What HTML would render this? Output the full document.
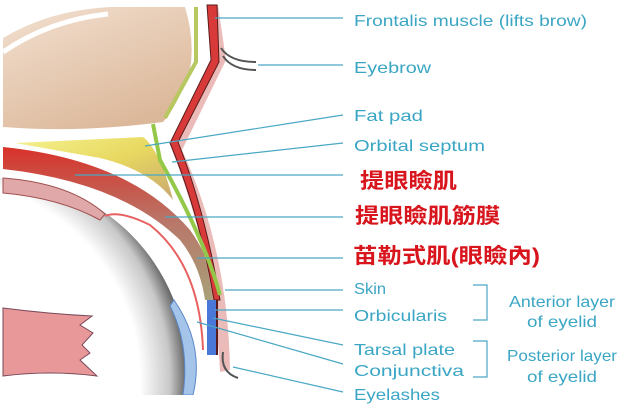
<!DOCTYPE html>
<html><head><meta charset="utf-8"><style>
html,body{margin:0;padding:0;background:#fff;width:634px;height:411px;overflow:hidden}
svg{display:block}
.t{font-family:"Liberation Sans",sans-serif;font-size:16px;fill:#3aa6c4}
.c{font-family:"Liberation Sans","Noto Sans CJK TC",sans-serif;font-size:21px;font-weight:bold;fill:#d8141c}
.l{stroke:#4aa8c4;stroke-width:1.2;fill:none}
</style></head><body>
<svg width="634" height="411" viewBox="0 0 634 411" xmlns="http://www.w3.org/2000/svg">
<defs>
<radialGradient id="eye" cx="-60" cy="380" r="250" gradientUnits="userSpaceOnUse">
<stop offset="0" stop-color="#fff"/><stop offset="0.8" stop-color="#fff"/><stop offset="0.92" stop-color="#c8c8c8"/><stop offset="1" stop-color="#505050"/>
</radialGradient>
<linearGradient id="bone" x1="0" y1="0" x2="0.6" y2="1">
<stop offset="0" stop-color="#f2e0d0"/><stop offset="1" stop-color="#dcb89a"/>
</linearGradient>
<linearGradient id="fat" x1="0" y1="0" x2="1" y2="1">
<stop offset="0" stop-color="#f4f290"/><stop offset="0.5" stop-color="#e8d860"/><stop offset="1" stop-color="#c8a870"/>
</linearGradient>
<linearGradient id="lev" x1="0" y1="0" x2="0" y2="1">
<stop offset="0" stop-color="#d8322a"/><stop offset="0.5" stop-color="#b8786a"/><stop offset="1" stop-color="#a8a078"/>
</linearGradient>
<clipPath id="cl"><rect x="0" y="0" width="634" height="395"/></clipPath>
</defs>
<!-- bone -->
<path d="M3,38 Q50,10 110,7 L185,7 Q195,40 190,70 Q178,105 163,122 Q80,133 3,127 Z" fill="url(#bone)"/>
<path d="M3,52 Q50,20 108,14" stroke="#fff" stroke-width="5" fill="none"/>
<!-- eyeball -->
<g clip-path="url(#cl)">
<circle cx="-5" cy="370" r="192" fill="url(#eye)"/>
<path d="M174,300 Q205,345 193,395 L183,395 Q190,345 170,306 Z" fill="#a4c4ea" stroke="#5a88c8"/>
</g>
<!-- upper pink layer -->
<path d="M3,178 Q70,183 105,214 L100,220 Q60,198 3,193 Z" fill="#e0a8a8" stroke="#a05050" stroke-width="1"/>
<!-- levator -->
<path d="M3,147 Q130,160 190,230 Q215,265 215,300 L205,300 Q200,265 180,240 Q120,182 3,169 Z" fill="url(#lev)"/>
<!-- conjunctiva line -->
<path d="M105,216 Q120,210 150,225 Q200,265 203,350" stroke="#e86060" stroke-width="2" fill="none"/>
<!-- fat pad -->
<path d="M15,143 L143,137 Q160,150 173,200 Q150,170 100,158 Z" fill="url(#fat)"/>
<!-- pink skin shadow -->
<path d="M218,5 L226,60 L182,150 Q228,250 230,370 L220,372 Q215,260 172,150 L215,60 L210,5 Z" fill="#e6aaa8" opacity="0.8"/>
<!-- frontalis red band -->
<path d="M207,5 L217,5 L219,62 L178,142 Q205,210 220,300 L214,300 Q200,215 170,143 L211,60 Z" fill="#d83a3a" stroke="#5a1a1a" stroke-width="1"/>
<!-- green septum -->
<path d="M196,7 L196,62 L165,118" stroke="#b8c860" stroke-width="4" fill="none"/>
<path d="M153,124 L160,160 Q205,240 220,295" stroke="#94c848" stroke-width="4" fill="none"/>
<!-- tarsal plate -->
<rect x="207" y="300" width="9" height="55" fill="#4a78d8"/>
<path d="M217,300 L217,355" stroke="#5a1a1a" stroke-width="2"/>
<!-- eyelash -->
<path d="M223,352 Q220,372 238,378" stroke="#555" stroke-width="2" fill="none"/>
<!-- eyebrow -->
<path d="M221,48 Q230,62 256,62" stroke="#555" stroke-width="2" fill="none"/>
<path d="M223,56 Q232,70 256,70" stroke="#555" stroke-width="2" fill="none"/>
<!-- optic/muscle -->
<path d="M3,308 Q50,314 92,316 L80,325 L93,333 L82,345 L90,353 L80,360 L97,376 Q50,370 3,376 Z" fill="#e89898" stroke="#7a4a5a"/>
<!-- leaders -->
<path class="l" d="M215,18 H343 M258,65 H343 M145,146 L343,115 M172,162 L343,143 M75,175 H343 M165,217 H343 M197,258 H343 M225,290 H343 M215,310 H343 M213,318 L343,345 M197,322 L343,364 M233,367 L343,392"/>
<!-- brackets -->
<path class="l" d="M473,285 H487 V320 H473 M473,341 H487 V377 H473"/>
<!-- labels -->
<text class="t" x="354" y="26" textLength="233" lengthAdjust="spacingAndGlyphs">Frontalis muscle (lifts brow)</text>
<text class="t" x="354" y="73" textLength="77" lengthAdjust="spacingAndGlyphs">Eyebrow</text>
<text class="t" x="354" y="121" textLength="69" lengthAdjust="spacingAndGlyphs">Fat pad</text>
<text class="t" x="354" y="151" textLength="131" lengthAdjust="spacingAndGlyphs">Orbital septum</text>
<text class="c" x="360" y="188" textLength="97" lengthAdjust="spacingAndGlyphs">提眼瞼肌</text>
<text class="c" x="355" y="223" textLength="145" lengthAdjust="spacingAndGlyphs">提眼瞼肌筋膜</text>
<text class="c" x="353" y="263" textLength="187" lengthAdjust="spacingAndGlyphs">苗勒式肌(眼瞼內)</text>
<text class="t" x="354" y="294" textLength="32" lengthAdjust="spacingAndGlyphs">Skin</text>
<text class="t" x="354" y="321" textLength="93" lengthAdjust="spacingAndGlyphs">Orbicularis</text>
<text class="t" x="354" y="355" textLength="101" lengthAdjust="spacingAndGlyphs">Tarsal plate</text>
<text class="t" x="354" y="376" textLength="110" lengthAdjust="spacingAndGlyphs">Conjunctiva</text>
<text class="t" x="354" y="400" textLength="86" lengthAdjust="spacingAndGlyphs">Eyelashes</text>
<text class="t" x="509" y="307" textLength="106" lengthAdjust="spacingAndGlyphs">Anterior layer</text>
<text class="t" x="527" y="327" textLength="70" lengthAdjust="spacingAndGlyphs">of eyelid</text>
<text class="t" x="507" y="361" textLength="110" lengthAdjust="spacingAndGlyphs">Posterior layer</text>
<text class="t" x="527" y="382" textLength="70" lengthAdjust="spacingAndGlyphs">of eyelid</text>
</svg>
</body></html>
